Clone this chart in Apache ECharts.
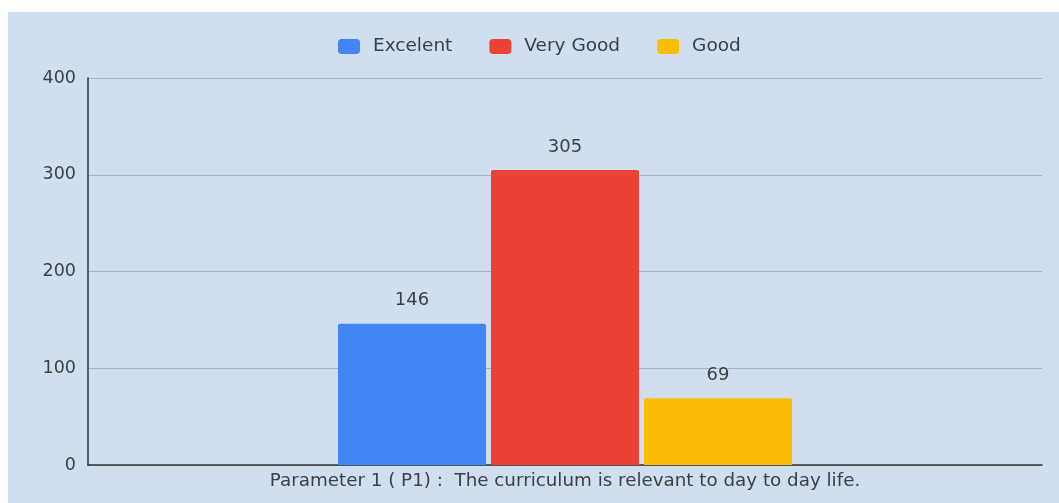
<!DOCTYPE html>
<html>
<head>
<meta charset="utf-8">
<script src="https://cdn.jsdelivr.net/npm/echarts@6/dist/echarts.min.js"></script>
<style>
  html, body { margin: 0; padding: 0; background: #ffffff; width: 1059px; height: 503px; overflow: hidden; }
  #chart { position: absolute; left: 8px; top: 12px; width: 1051px; height: 491px; }
</style>
</head>
<body>
<div id="chart"></div>
<script>
const categories = ["Parameter 1 ( P1) :  The curriculum is relevant to day to day life."];
const seriesNames = ["Excelent", "Very Good", "Good"];
const excelentValues = [146];
const veryGoodValues = [305];
const goodValues = [69];
const yTicks = [0, 100, 200, 300, 400];

const colors = ["#4285f4", "#ea4335", "#fbbc04"];
const valueSets = [excelentValues, veryGoodValues, goodValues];
const FONT = "DejaVu Sans";

const chart = echarts.init(document.getElementById('chart'), null, { renderer: 'canvas' });
chart.setOption({
  backgroundColor: '#cfdff0',
  animation: false,
  textStyle: { fontFamily: FONT },
  legend: {
    data: seriesNames,
    left: 330,
    top: 25,
    padding: 0,
    itemWidth: 22,
    itemHeight: 15,
    itemGap: 37,
    icon: 'roundRect',
    textStyle: { fontFamily: FONT, fontSize: 18.5, color: '#3c3f44', padding: [0, 0, 0, 8] }
  },
  grid: { left: 80, right: 17, top: 66, bottom: 38, containLabel: false },
  xAxis: {
    type: 'category',
    data: categories,
    axisLine: { show: true, lineStyle: { color: '#333', width: 1.5 } },
    axisTick: { show: false },
    axisLabel: { fontFamily: FONT, fontSize: 18.3, color: '#3c3f44', margin: 7 }
  },
  yAxis: {
    type: 'value',
    min: yTicks[0],
    max: yTicks[yTicks.length - 1],
    interval: 100,
    axisLine: { show: true, lineStyle: { color: '#333', width: 1.5 } },
    axisTick: { show: false },
    axisLabel: { fontFamily: FONT, fontSize: 17.5, color: '#3c3f44', margin: 12 },
    splitLine: { show: true, lineStyle: { color: '#a4b3c4', width: 1 } }
  },
  series: seriesNames.map((name, i) => ({
    name: name,
    type: 'bar',
    data: valueSets[i],
    barWidth: 148,
    barGap: '3.4%',
    itemStyle: { color: colors[i], borderRadius: [2, 2, 0, 0] },
    label: {
      show: true,
      position: 'top',
      distance: 14,
      fontFamily: FONT,
      fontSize: 18,
      color: '#3c3f44'
    }
  }))
});
</script>
</body>
</html>
